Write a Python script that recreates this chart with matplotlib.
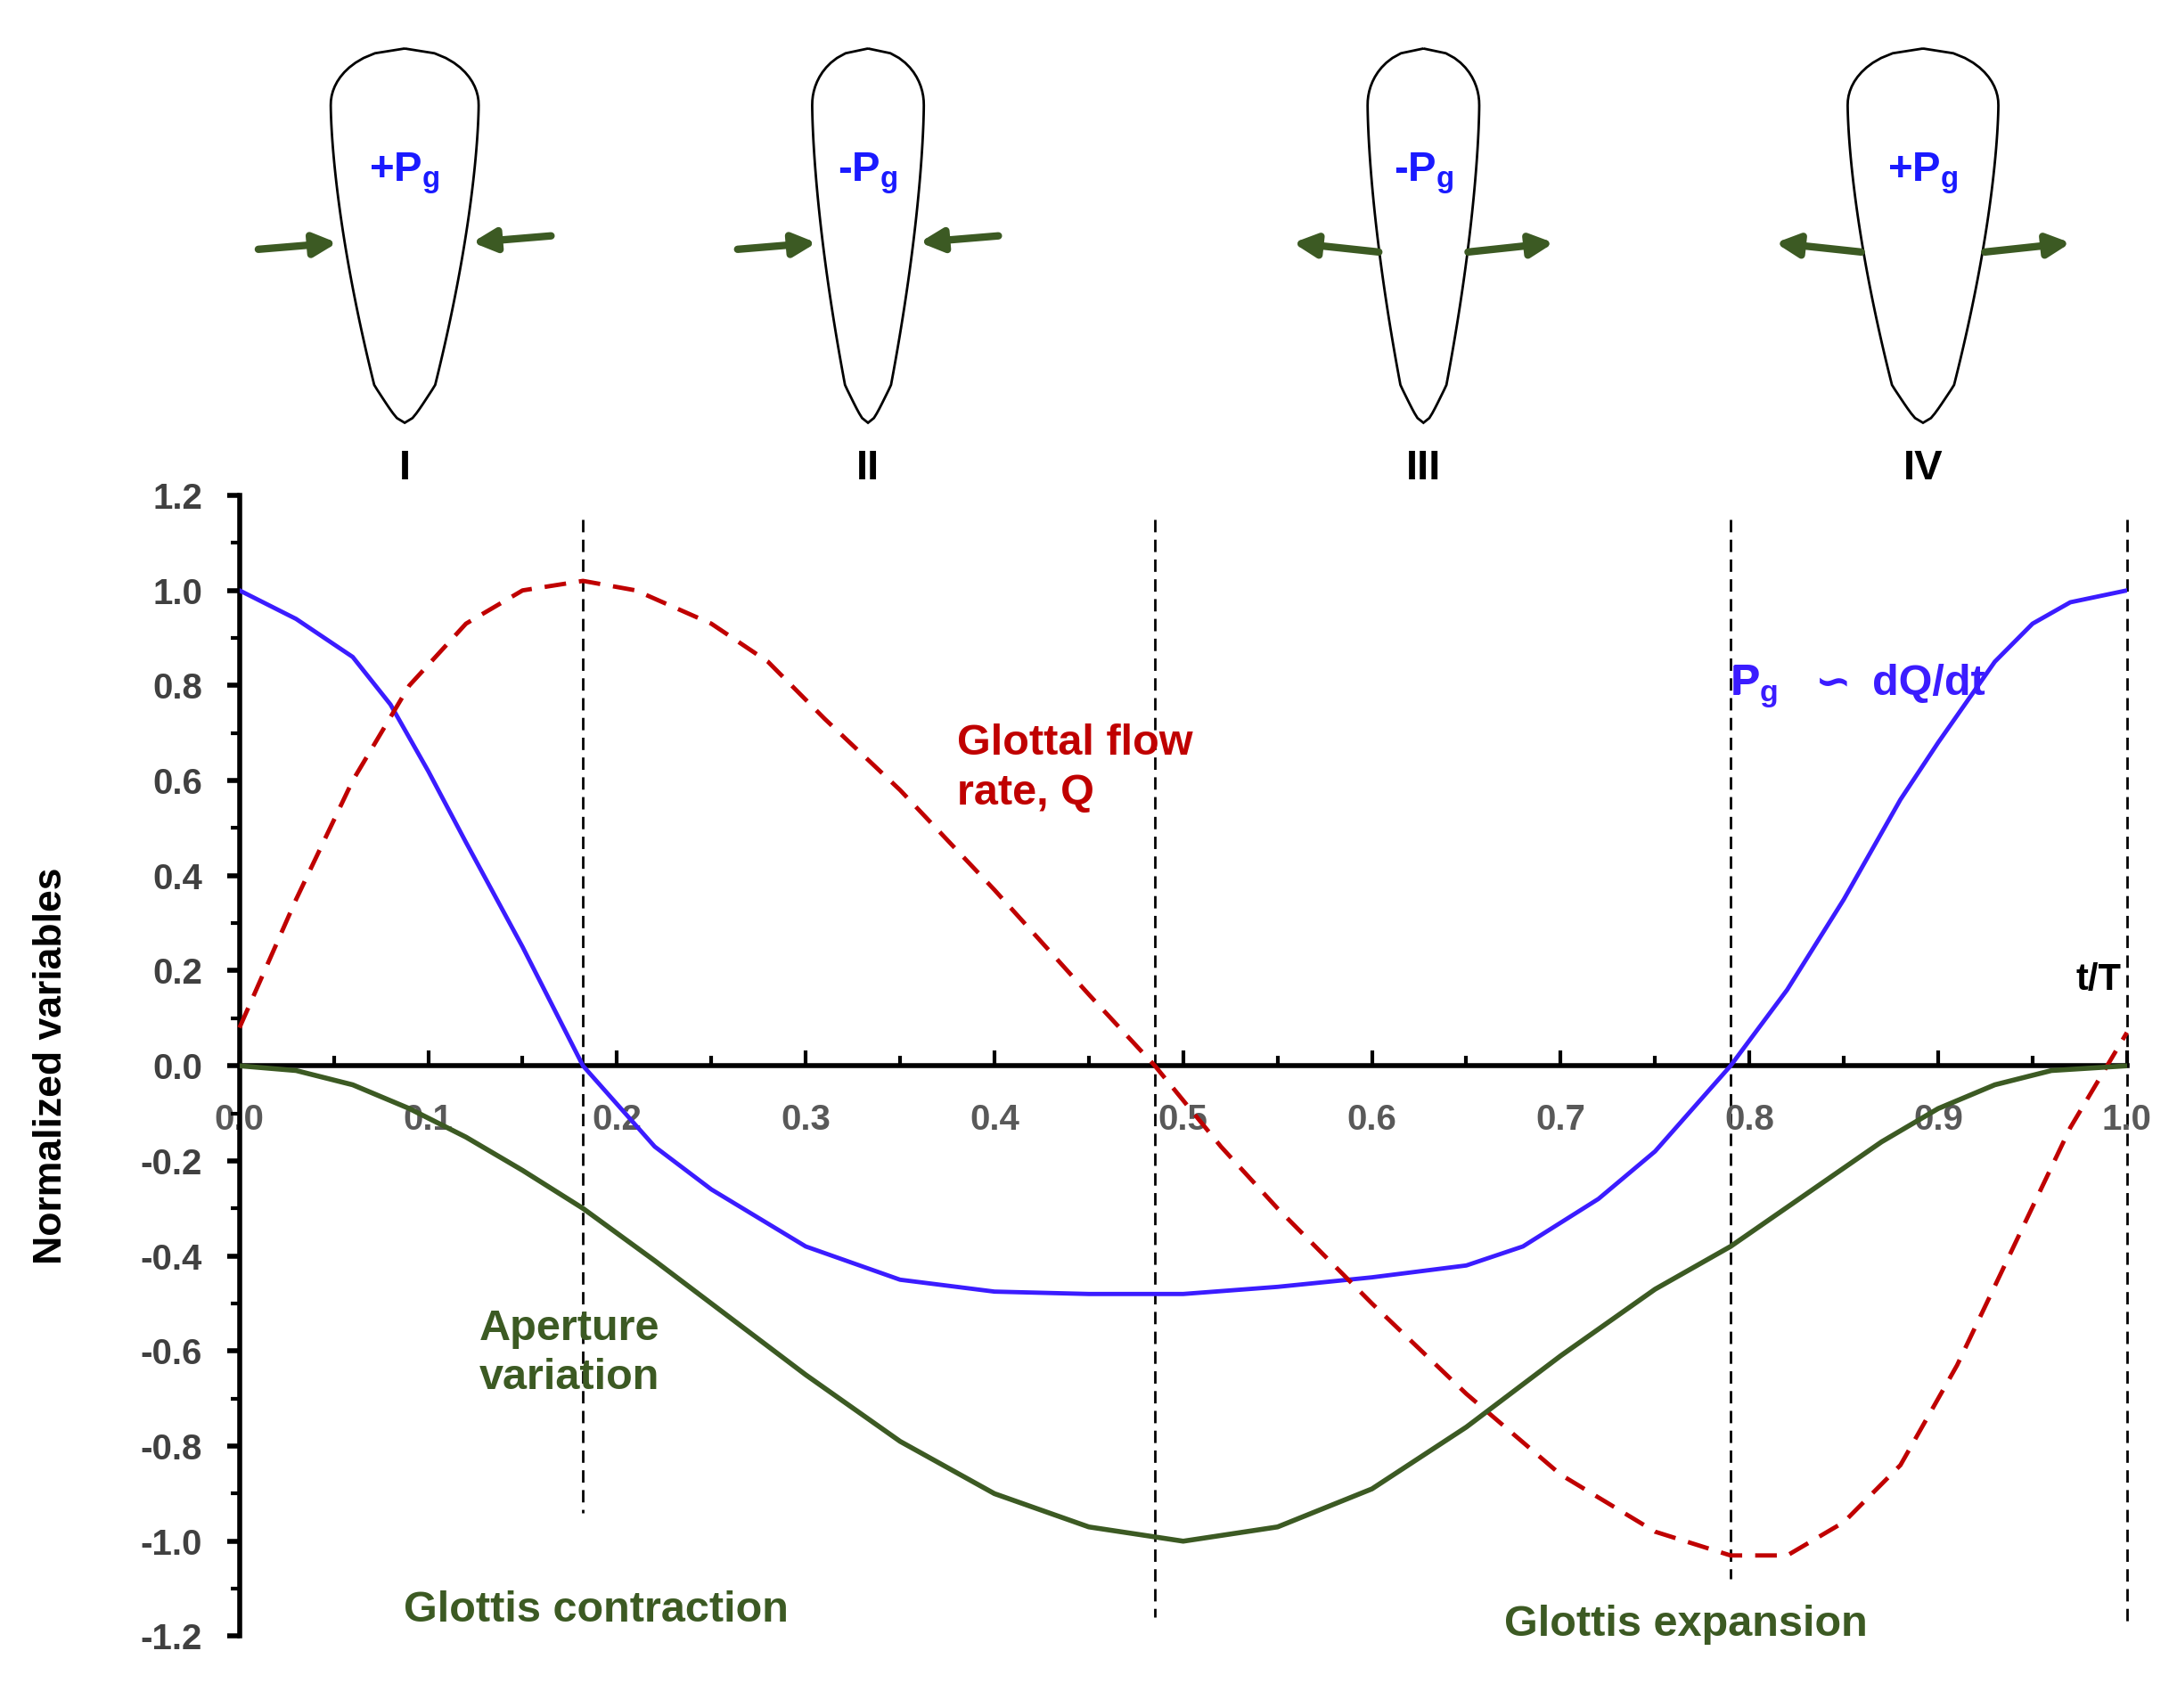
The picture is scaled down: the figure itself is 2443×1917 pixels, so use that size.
import numpy as np
import matplotlib.pyplot as plt
from matplotlib.path import Path
from matplotlib.patches import PathPatch

plt.rcParams['font.family'] = ['Liberation Sans', 'DejaVu Sans']
plt.rcParams['font.weight'] = 'bold'
plt.rcParams['axes.labelweight'] = 'bold'
plt.rcParams['mathtext.fontset'] = 'custom'
plt.rcParams['mathtext.rm'] = 'Liberation Sans:bold'

# curves (t/T, value)
t_pg = [0, .03, .06, .08, .1, .12, .15, .182, .22, .25, .3, .35, .4, .45, .5, .55, .6, .65, .68, .72, .75, .79, .82, .85, .88, .9, .93, .95, .97, 1.0]
pg = [1.0, .94, .86, .76, .62, .47, .25, 0.0, -.17, -.26, -.38, -.45, -.475, -.48, -.48, -.465, -.445, -.42, -.38, -.28, -.18, 0.0, .16, .35, .56, .68, .85, .93, .975, 1.0]
t_q = [0, .03, .06, .09, .12, .15, .182, .21, .25, .28, .31, .35, .4, .45, .485, .52, .55, .6, .65, .7, .75, .79, .82, .85, .88, .91, .94, .97, 1.0]
q = [.08, .35, .6, .8, .93, 1.0, 1.02, 1.0, .93, .85, .73, .58, .37, .15, 0.0, -.17, -.3, -.5, -.69, -.86, -.98, -1.03, -1.03, -.96, -.84, -.63, -.38, -.13, .07]
t_ap = [0, .03, .06, .09, .12, .15, .182, .22, .26, .3, .35, .4, .45, .5, .55, .6, .65, .7, .75, .79, .83, .87, .9, .93, .96, 1.0]
ap = [0, -.01, -.04, -.09, -.15, -.22, -.3, -.41, -.53, -.65, -.79, -.9, -.97, -1.0, -.97, -.89, -.76, -.61, -.47, -.38, -.27, -.16, -.09, -.04, -.01, 0]
vlines_x = [0.182, 0.485, 0.79, 1.0]
vlines_lo = [-0.94, -1.16, -1.08, -1.17]
xticks = np.round(np.arange(0, 1.01, 0.1), 1)
yticks = np.round(np.arange(-1.2, 1.21, 0.2), 1)

blue = '#3b1cff'
red = '#c00000'
green = '#3c5a23'

fig = plt.figure(figsize=(24.43, 19.17), dpi=100)
ax = fig.add_axes([0.110, 0.042, 0.867, 0.668])
ax.set_xlim(0, 1)
ax.set_ylim(-1.2, 1.2)

for x, lo in zip(vlines_x, vlines_lo):
    ax.plot([x, x], [1.15, lo], color='black', lw=2, ls=(0, (5, 3)), zorder=1, clip_on=False)

ax.plot(t_pg, pg, color=blue, lw=3.5, zorder=3)
ax.plot(t_q, q, color=red, lw=3.5, ls=(0, (5, 3)), zorder=3, clip_on=False)
ax.plot(t_ap, ap, color=green, lw=4, zorder=3)

for s in ['top', 'right']:
    ax.spines[s].set_visible(False)
ax.spines['bottom'].set_position(('data', 0))
ax.spines['left'].set_position(('data', 0))
ax.spines['bottom'].set_linewidth(4)
ax.spines['left'].set_linewidth(4)
ax.spines['bottom'].set_zorder(2)
ax.set_xticks(xticks)
ax.set_xticks(np.arange(0.05, 1.0, 0.1), minor=True)
ax.set_yticks(yticks)
ax.set_yticks(np.arange(-1.1, 1.2, 0.2), minor=True)
ax.tick_params(axis='x', direction='in', length=12, width=3, labelsize=29, pad=30, labelcolor='#595959')
ax.tick_params(axis='x', which='minor', direction='in', length=8, width=3)
ax.tick_params(axis='y', direction='out', length=10, width=4, labelsize=29, labelcolor='#404040', pad=20)
ax.tick_params(axis='y', which='minor', direction='out', length=7, width=3)
ax.set_xticklabels([f'{v:.1f}' for v in xticks])
ax.set_yticklabels([f'{v + 0.0:.1f}'.replace('-0.0', '0.0') for v in yticks])
ax.set_ylabel('Normalized variables', fontsize=32)
ax.yaxis.set_label_coords(-0.09, 0.5)

ax.text(0.985, 0.16, 't/T', fontsize=30, ha='center', color='black')
ax.text(0.38, 0.55, 'Glottal flow\nrate, Q', fontsize=35, color=red, linespacing=1.3)
ax.text(0.79, 0.78, 'P', fontsize=35, color=blue)
ax.text(0.79, 0.78, r'P$_\mathregular{g}$', fontsize=35, color=blue)
ax.text(0.835, 0.78, '∽', fontsize=35, color=blue, family='DejaVu Sans')
ax.text(0.865, 0.78, 'dQ/dt', fontsize=35, color=blue)
ax.text(0.127, -0.68, 'Aperture\nvariation', fontsize=35, color=green, linespacing=1.3)
ax.text(0.087, -1.17, 'Glottis contraction', fontsize=35, color=green)
ax.text(0.67, -1.2, 'Glottis expansion', fontsize=35, color=green)

# vocal fold shapes on top
top = fig.add_axes([0, 0.72, 1, 0.28])
top.set_xlim(0, 1560)
top.set_ylim(345, 0)
top.axis('off')
centers = [290, 622, 1020, 1378]
widths = [106, 80, 80, 108]
press = ['+', '-', '-', '+']
numerals = ['I', 'II', 'III', 'IV']
inward = [True, True, False, False]
for cx, w, p, num, inw in zip(centers, widths, press, numerals, inward):
    tt = np.linspace(0, 1, 80)
    ys = 35 + 270 * tt
    hw = w / 2 * np.where(tt < 0.15, np.sqrt(1 - ((0.15 - tt) / 0.15) ** 2), 1 - 0.72 * ((tt - 0.15) / 0.85) ** 1.6)
    hw = np.where(tt > 0.9, hw * np.sqrt(np.clip((1 - tt) / 0.1, 0, 1)), hw)
    xs = np.concatenate([cx - hw, (cx + hw)[::-1]])
    yy = np.concatenate([ys, ys[::-1]])
    top.add_patch(PathPatch(Path(np.column_stack([xs, yy])), fc='white', ec='black', lw=2))
    top.text(cx, 125, p + r'P$_\mathregular{g}$', fontsize=34, color='#1a1aff', ha='center', va='center')
    top.text(cx, 338, num, fontsize=34, color='black', ha='center', va='center')
    edge = w / 2 * 0.88
    for sgn in (-1, 1):
        if inw:
            x0, x1 = cx + sgn * (edge + 60), cx + sgn * edge
        else:
            x0, x1 = cx + sgn * (edge - 5), cx + sgn * (edge + 60)
        dy = -5 * sgn if inw else 7
        top.annotate('', xy=(x1, 175), xytext=(x0, 175 + dy),
                     arrowprops=dict(arrowstyle='-|>', color=green, lw=6, mutation_scale=38))

fig.savefig('out.png', dpi=100)
